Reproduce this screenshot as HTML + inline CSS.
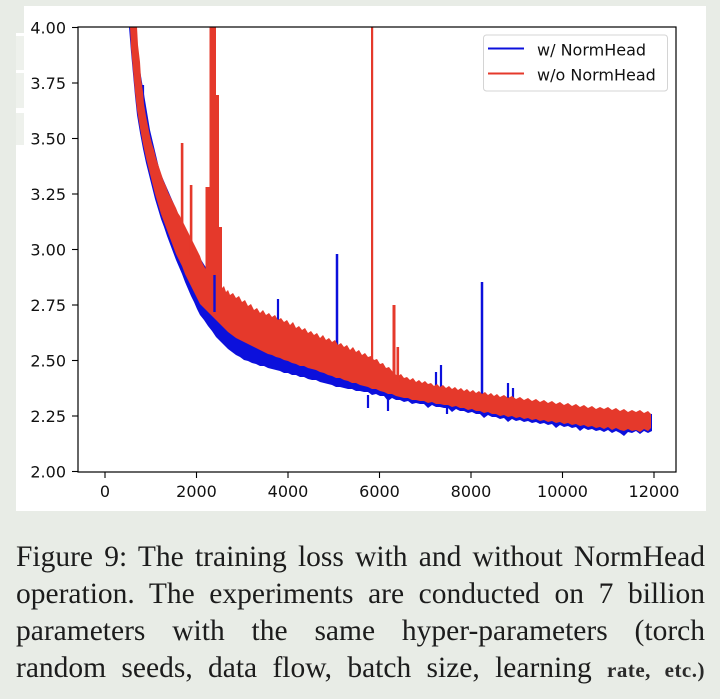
<!DOCTYPE html>
<html>
<head>
<meta charset="utf-8">
<style>
  html, body { margin:0; padding:0; }
  body { width:720px; height:699px; background:#e8ece6; position:relative; overflow:hidden; }
  .cap { position:absolute; left:16px; width:689px; font-family:"Liberation Serif", serif; font-size:29.5px; line-height:33px; color:#1c1c1c; text-align:justify; text-align-last:justify; white-space:normal; }
  .wm { font-weight:bold; font-size:21px; color:#2a2a2a; letter-spacing:0.5px; }
</style>
</head>
<body>
<svg width="720" height="699" viewBox="0 0 720 699" style="position:absolute;left:0;top:0" xmlns="http://www.w3.org/2000/svg">
  <defs>
    <clipPath id="pc"><rect x="78" y="27" width="598" height="445"/></clipPath>
  </defs>
  <!-- panel -->
  <rect x="24" y="6" width="682" height="505" fill="#ffffff"/>
  <rect x="16" y="145" width="8" height="366" fill="#ffffff"/>
  <rect x="16" y="33" width="8" height="112" fill="#eef1ec"/>
  <rect x="16" y="33" width="8" height="3" fill="#ffffff"/>
  <rect x="16" y="70" width="8" height="3" fill="#ffffff"/>
  <rect x="16" y="108" width="8" height="5" fill="#ffffff"/>

  <g clip-path="url(#pc)">
    <!-- blue band -->
    <polygon fill="#0c10dc" points="127,27 134,27 140,70 150,130 160,172 180,218 200,258 220,290 250,310 300,332 350,352 400,380 450,390 500,399 550,404 600,410 652,414 652,431 648,433 644,431 640,434 636,431 632,433 628,432 624,436 620,433 616,431 612,433 608,430 604,432 600,430 596,431 592,429 588,430 584,428 580,431 576,427 572,428 568,426 564,427 560,425 556,428 552,424 548,425 544,423 540,424 536,422 532,423 528,421 524,422 520,420 516,421 512,419 508,422 504,418 500,419 496,417 492,417 488,415 484,418 480,414 476,414 472,412 468,413 464,411 460,411 456,409 452,412 448,408 444,408 440,407 436,407 432,405 428,408 424,404 420,404 416,403 412,404 408,401 404,402 400,400 396,400 392,398 388,401 384,396 380,396 376,394 372,395 368,392 364,392 360,391 356,391 352,389 348,389 344,388 340,387 336,387 332,385 328,384 324,383 320,382 316,380 312,380 308,379 304,377 300,377 296,375 292,375 288,373 284,373 280,371 276,370 272,369 268,368 264,366 260,366 256,364 252,363 248,361 244,360 240,357 236,355 232,352 228,349 224,345 220,341 216,337 212,331 208,326 204,320 200,315 197,309 194,302 191,296 188,289 185,282 182,274 179,267 176,260 173,252 170,244 167,236 164,227 161,219 158,209 155,199 152,187 149,175 146,163 143,149 140,133 137,115 135,96 133,74 131,52 129,27"/>
    <!-- blue spikes -->
    <g stroke="#0c10dc" stroke-width="2.2" fill="none">
      <line x1="143" y1="125" x2="143" y2="85"/>
      <line x1="278" y1="330" x2="278" y2="299"/>
      <line x1="337" y1="360" x2="337" y2="254" stroke-width="2.5"/>
      <line x1="436" y1="395" x2="436" y2="372"/>
      <line x1="441" y1="395" x2="441" y2="365"/>
      <line x1="482" y1="400" x2="482" y2="282" stroke-width="2.5"/>
      <line x1="508" y1="400" x2="508" y2="383"/>
      <line x1="513" y1="400" x2="513" y2="388"/>
      <line x1="388" y1="398" x2="388" y2="411"/>
      <line x1="447" y1="405" x2="447" y2="414"/>
      <line x1="368" y1="395" x2="368" y2="408"/>
    </g>
    <!-- red band -->
    <polygon fill="#e5392b" points="129,27 137,27 138,45 140,62 141,78 143,92 144,104 146,116 148,126 150,136 152,144 154,150 156,158 158,164 160,170 162,176 164,182 166,186 168,192 170,196 172,200 174,204 176,208 178,213 180,216 182,220 184,224 186,228 188,232 190,236 192,240 194,244 196,248 198,252 200,256 202,262 204,266 206,270 208,274 222,288 224,286 226,292 228,290 230,295 233,293 236,298 239,296 242,302 245,300 248,306 251,304 254,310 257,308 260,313 263,310 266,315 269,313 272,317 275,315 278,320 281,318 284,322 287,320 290,325 293,322 296,328 299,326 302,330 305,328 308,333 311,331 314,335 317,333 320,338 323,335 326,340 329,338 332,342 335,340 338,345 341,343 344,347 347,345 350,350 353,347 356,352 359,350 362,355 365,353 368,357 371,356 374,360 377,359 380,364 383,363 386,368 389,367 392,371 395,374 398,376 401,374 404,378 407,377 410,380 413,378 416,382 419,380 422,383 425,381 428,384 431,383 434,386 437,384 440,387 443,385 446,388 449,386 452,389 455,387 458,390 461,388 464,391 467,389 470,392 473,390 476,393 479,391 482,394 485,392 488,395 491,393 494,396 497,394 500,397 504,395 508,398 512,396 516,399 520,397 524,400 528,398 532,401 536,399 540,402 544,400 548,403 552,401 556,404 560,402 564,405 568,403 572,406 576,404 580,407 584,405 588,408 592,406 596,409 600,407 604,409 608,407 612,410 616,408 620,411 624,409 628,412 632,410 636,412 640,410 644,413 648,411 651,414 651,428 648,431 644,429 640,432 636,430 632,431 628,429 624,431 620,430 616,428 612,430 608,427 604,429 600,427 596,428 592,426 588,427 584,425 580,426 576,424 572,425 568,423 564,424 560,422 556,423 552,421 548,422 544,420 540,421 536,419 532,420 528,418 524,419 520,417 516,418 512,416 508,417 504,415 500,416 496,414 492,414 488,412 484,413 480,411 476,411 472,409 468,410 464,408 460,408 456,406 452,407 448,405 444,405 440,404 436,404 432,402 428,403 424,401 420,401 416,400 412,400 408,398 404,398 400,397 396,396 392,394 388,394 384,392 380,391 376,389 372,389 368,387 364,386 360,385 356,383 352,383 348,381 344,380 340,378 336,378 332,376 328,375 324,373 320,372 316,370 312,369 308,368 304,366 300,366 296,364 292,363 288,361 284,360 280,358 276,357 272,355 268,354 264,352 260,350 256,348 252,346 248,344 244,342 240,340 236,338 232,335 228,332 224,328 220,324 216,320 212,316 208,312 204,308 200,304 197,298 194,292 191,286 188,280 185,274 182,266 179,260 176,254 173,246 170,238 167,230 164,222 161,214 158,204 155,194 152,182 149,170 146,158 143,144 140,128 137,110 135,92 133,70 131,48 130,27"/>
    <!-- red spikes -->
    <g fill="#e5392b">
      <rect x="180.8" y="143" width="2.6" height="90"/>
      <rect x="189.8" y="185" width="2.6" height="70"/>
      <rect x="205.5" y="187" width="4" height="120"/>
      <rect x="209.5" y="27" width="6.5" height="280"/>
      <rect x="216" y="95" width="3" height="200"/>
      <rect x="219" y="227" width="3" height="70"/>
      <rect x="371" y="27" width="2.2" height="335"/>
      <rect x="392.5" y="305" width="3" height="75"/>
      <rect x="396.5" y="347" width="2.6" height="35"/>
    </g>
    <line x1="214.5" y1="275" x2="214.5" y2="312" stroke="#0c10dc" stroke-width="2.4"/>
  </g>

  <!-- axes frame -->
  <rect x="78" y="27" width="598" height="445" fill="none" stroke="#000" stroke-width="1.2"/>

  <!-- ticks -->
  <g stroke="#000" stroke-width="1.1">
    <line x1="72" y1="27.5" x2="78" y2="27.5"/>
    <line x1="72" y1="83" x2="78" y2="83"/>
    <line x1="72" y1="138.5" x2="78" y2="138.5"/>
    <line x1="72" y1="194" x2="78" y2="194"/>
    <line x1="72" y1="249.5" x2="78" y2="249.5"/>
    <line x1="72" y1="305" x2="78" y2="305"/>
    <line x1="72" y1="360.5" x2="78" y2="360.5"/>
    <line x1="72" y1="416" x2="78" y2="416"/>
    <line x1="72" y1="471.5" x2="78" y2="471.5"/>
    <line x1="105" y1="472" x2="105" y2="478"/>
    <line x1="196.5" y1="472" x2="196.5" y2="478"/>
    <line x1="288" y1="472" x2="288" y2="478"/>
    <line x1="379.5" y1="472" x2="379.5" y2="478"/>
    <line x1="471" y1="472" x2="471" y2="478"/>
    <line x1="562.5" y1="472" x2="562.5" y2="478"/>
    <line x1="654" y1="472" x2="654" y2="478"/>
  </g>
  <g font-family="DejaVu Sans, sans-serif" font-size="16" fill="#111" text-anchor="end">
    <text x="66" y="33.3">4.00</text>
    <text x="66" y="88.8">3.75</text>
    <text x="66" y="144.3">3.50</text>
    <text x="66" y="199.8">3.25</text>
    <text x="66" y="255.3">3.00</text>
    <text x="66" y="310.8">2.75</text>
    <text x="66" y="366.3">2.50</text>
    <text x="66" y="421.8">2.25</text>
    <text x="66" y="477.3">2.00</text>
  </g>
  <g font-family="DejaVu Sans, sans-serif" font-size="16" fill="#111" text-anchor="middle">
    <text x="105" y="497">0</text>
    <text x="196.5" y="497">2000</text>
    <text x="288" y="497">4000</text>
    <text x="379.5" y="497">6000</text>
    <text x="471" y="497">8000</text>
    <text x="562.5" y="497">10000</text>
    <text x="654" y="497">12000</text>
  </g>

  <!-- legend -->
  <rect x="483.5" y="35" width="184" height="56" rx="3" ry="3" fill="#ffffff" fill-opacity="0.9" stroke="#d4d4d4" stroke-width="1"/>
  <line x1="488" y1="48.5" x2="524" y2="48.5" stroke="#0c10dc" stroke-width="2"/>
  <line x1="488" y1="73.5" x2="524" y2="73.5" stroke="#e5392b" stroke-width="2"/>
  <g font-family="DejaVu Sans, sans-serif" font-size="16" fill="#111">
    <text x="537" y="55.5">w/ NormHead</text>
    <text x="537" y="80.5">w/o NormHead</text>
  </g>
</svg>

<div class="cap" style="top:540.5px">Figure 9: The training loss with and without NormHead</div>
<div class="cap" style="top:577.5px">operation. The experiments are conducted on 7 billion</div>
<div class="cap" style="top:614.5px">parameters with the same hyper-parameters (torch</div>
<div class="cap" style="top:651.5px">random seeds, data flow, batch size, learning <span class="wm">rate, etc.)</span></div>
</body>
</html>
